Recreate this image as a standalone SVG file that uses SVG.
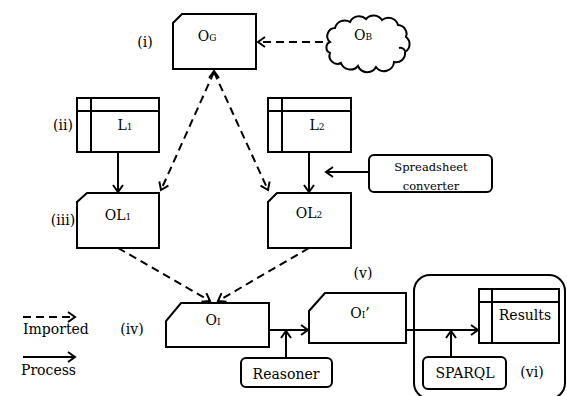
<svg xmlns="http://www.w3.org/2000/svg" width="567" height="396" viewBox="0 0 567 396">
<style>
.s{fill:none;stroke:#000;stroke-width:2;stroke-linejoin:miter}
.w{fill:#fff;stroke:#000;stroke-width:2}
.ln{fill:none;stroke:#000;stroke-width:2}
.d{fill:none;stroke:#000;stroke-width:2;stroke-dasharray:8 5}
text{font-family:"DejaVu Serif","Liberation Serif",serif;font-size:14px;fill:#000}
.m{text-anchor:middle}
.sub{font-size:9px}
.sm{font-size:11.5px;text-anchor:middle}
</style>
<defs>
<marker id="ah" markerUnits="userSpaceOnUse" markerWidth="12" markerHeight="12" viewBox="0 0 12 12" refX="9" refY="6" orient="auto">
<path d="M2,1 L9,6 L2,11" fill="none" stroke="#000" stroke-width="2"/>
</marker>
</defs>
<rect width="567" height="396" fill="#fff"/>

<g id="group-vi">
<rect class="s" x="414" y="275" width="151" height="124" rx="16"/>
<text x="532" y="377" class="m">(vi)</text>
</g>

<g id="connectors">
<line class="d" x1="323" y1="42" x2="258" y2="42" marker-end="url(#ah)"/>
<line class="d" x1="214" y1="72" x2="161" y2="190" marker-end="url(#ah)"/>
<line class="d" x1="214" y1="72" x2="268" y2="190" marker-end="url(#ah)"/>
<path class="ln" d="M209,78 L214,71 L219,78"/>
<line class="ln" x1="118" y1="152" x2="118" y2="192" marker-end="url(#ah)"/>
<line class="ln" x1="309" y1="152" x2="309" y2="192" marker-end="url(#ah)"/>
<line class="ln" x1="369" y1="172" x2="326" y2="172" marker-end="url(#ah)"/>
<line class="d" x1="118" y1="248" x2="210" y2="301" marker-end="url(#ah)"/>
<line class="d" x1="309" y1="248" x2="218" y2="301" marker-end="url(#ah)"/>
<line class="ln" x1="269" y1="330" x2="308" y2="330" marker-end="url(#ah)"/>
<line class="ln" x1="286" y1="358" x2="286" y2="331" marker-end="url(#ah)"/>
<line class="ln" x1="406" y1="330" x2="478" y2="330" marker-end="url(#ah)"/>
<line class="ln" x1="451" y1="357" x2="451" y2="331" marker-end="url(#ah)"/>
</g>

<g id="OG">
<path class="w" d="M182,14 L256,14 L256,69 L173,69 L173,23 Z"/>
<text x="207" y="41" class="m">O<tspan class="sub">G</tspan></text>
<text x="145" y="47" class="m">(i)</text>
</g>

<g id="OB">
<path class="w" d="M330,42 A8,8 0 0 1 335,28 A10,10 0 0 1 350,22 A10,10 0 0 1 366,19 A10,10 0 0 1 382,20 A10,10 0 0 1 398,25 A9,9 0 0 1 406,37 A9,9 0 0 1 405,52 A9,9 0 0 1 394,62 A10,10 0 0 1 376,67 A10,10 0 0 1 358,66 A10,10 0 0 1 341,63 A8,8 0 0 1 330,53 A6,6 0 0 1 330,42 Z"/>
<path class="ln" d="M399,48 A5,5 0 0 1 405,51" stroke-width="1.5"/>
<text x="363" y="40" class="m">O<tspan class="sub">B</tspan></text>
</g>

<g id="L1">
<rect class="w" x="77" y="98" width="82" height="54"/>
<line class="ln" x1="91" y1="98" x2="91" y2="152"/>
<line class="ln" x1="77" y1="111" x2="159" y2="111"/>
<text x="125" y="130" class="m">L<tspan class="sub">1</tspan></text>
<text x="63" y="130" class="m">(ii)</text>
</g>

<g id="L2">
<rect class="w" x="268" y="98" width="83" height="54"/>
<line class="ln" x1="282" y1="98" x2="282" y2="152"/>
<line class="ln" x1="268" y1="111" x2="351" y2="111"/>
<text x="317" y="130" class="m">L<tspan class="sub">2</tspan></text>
</g>

<g id="OL1">
<path class="w" d="M87,193 L159,193 L159,248 L77,248 L77,202 Z"/>
<text x="118" y="220" class="m">OL<tspan class="sub">1</tspan></text>
<text x="63" y="225" class="m">(iii)</text>
</g>

<g id="OL2">
<path class="w" d="M277,193 L351,193 L351,248 L268,248 L268,202 Z"/>
<text x="309" y="218" class="m">OL<tspan class="sub">2</tspan></text>
</g>

<g id="converter">
<rect class="w" x="369" y="155" width="123" height="37" rx="5"/>
<text x="431" y="171" class="sm">Spreadsheet</text>
<text x="431" y="190" class="sm">converter</text>
</g>

<g id="OI">
<path class="w" d="M181,303 L269,303 L269,347 L166,347 L166,321 Z"/>
<text x="213" y="325" class="m">O<tspan class="sub">I</tspan></text>
<text x="132" y="334" class="m">(iv)</text>
</g>

<g id="OIp">
<path class="w" d="M325,293 L406,293 L406,343 L309,343 L309,311 Z"/>
<text x="360" y="318" class="m">O<tspan class="sub">I</tspan>’</text>
<text x="363" y="278" class="m">(v)</text>
</g>

<g id="reasoner">
<rect class="w" x="241" y="358" width="91" height="29" rx="5"/>
<text x="286" y="379" class="m">Reasoner</text>
</g>

<g id="results">
<rect class="w" x="479" y="289" width="80" height="54"/>
<line class="ln" x1="492" y1="289" x2="492" y2="343"/>
<line class="ln" x1="479" y1="302" x2="559" y2="302"/>
<text x="525" y="320" class="m">Results</text>
</g>

<g id="sparql">
<rect class="w" x="423" y="357" width="83" height="32" rx="5"/>
<text x="465" y="378" class="m">SPARQL</text>
</g>

<g id="legend">
<line class="d" x1="23" y1="317" x2="75" y2="317" marker-end="url(#ah)"/>
<text x="23" y="334">Imported</text>
<line class="ln" x1="23" y1="357" x2="75" y2="357" marker-end="url(#ah)"/>
<text x="21" y="375">Process</text>
</g>
</svg>
